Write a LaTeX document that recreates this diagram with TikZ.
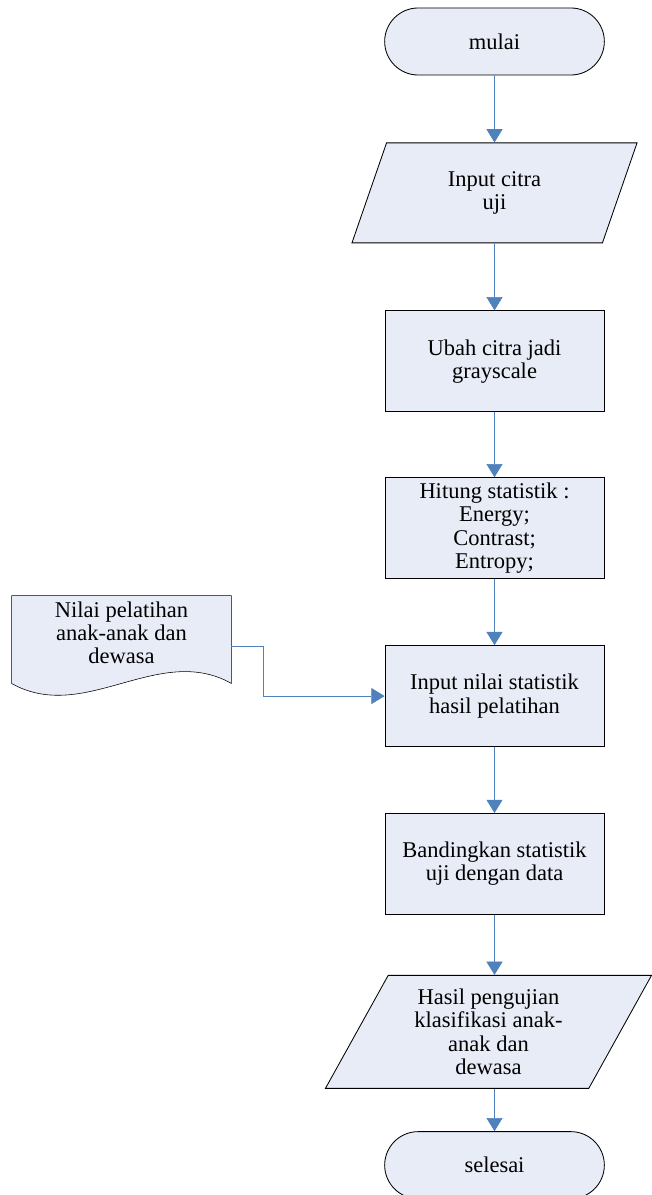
\documentclass[tikz,border=0pt]{standalone}
\usepackage{fontspec}
\setmainfont{Liberation Serif}
\usetikzlibrary{positioning,shapes.geometric,shapes.misc,arrows.meta,backgrounds}
\definecolor{boxfill}{RGB}{232,236,247}
\definecolor{flowblue}{RGB}{79,129,189}
\tikzstyle{terminal}=[
	rounded rectangle,
	draw=black,
	fill=boxfill,
	text centered,
	minimum width=5.725cm,
	minimum height=1.675cm
	]
\tikzstyle{process}=[
	rectangle,
	draw=black,
	fill=boxfill,
	align=center,
	minimum width=5.475cm,
	minimum height=2.525cm
	]
\tikzstyle{io}=[
	trapezium,
	trapezium left angle=56.5,
	trapezium right angle=123.5,
	trapezium stretches body,
	draw=black,
	fill=boxfill,
	align=center
	]
\tikzstyle{flow}=[draw=flowblue, -{Triangle[width=0.4cm,length=0.33cm]}]

\begin{document}
\begin{tikzpicture}[x=0.025cm, y=-0.025cm, node distance=1.65cm, line width=0.6pt, font=\fontsize{16}{16.5}\selectfont]

		\useasboundingbox (0,0) rectangle (651,1195);

		\node (Mulai) [terminal] at (494.5,41.5) {mulai};

		\node (InputCitra) [io, minimum width=7.125cm, minimum height=2.5cm, below=1.675cm of Mulai] {
			Input citra\\uji
		};

		\node (UbahCitra) [process, below=1.675cm of InputCitra] {
			Ubah citra jadi\\grayscale
		};

		\node (HitungStatistik) [process, below=1.625cm of UbahCitra] {
			Hitung statistik :\\Energy;\\Contrast;\\Entropy;
		};

		\node (InputNilai) [process, below=of HitungStatistik] {
			Input nilai statistik\\hasil pelatihan
		};

		\node (Bandingkan) [process, below=of InputNilai] {
			Bandingkan statistik\\uji dengan data
		};

		\node (HasilUji) [io, minimum width=8.15cm, minimum height=2.825cm, below=1.5cm of Bandingkan, xshift=-0.15cm] {
			Hasil pengujian\\klasifikasi anak-\\anak dan\\dewasa
		};

		\node (Selesai) [terminal, below=1.06cm of HasilUji, xshift=0.15cm] {selesai};

		\node (NilaiPelatihan) [minimum width=5.475cm, minimum height=1.85cm, align=center] at (121.5,633) {
			Nilai pelatihan\\anak-anak dan\\dewasa
		};

		% document shape behind its text
		\begin{pgfonlayer}{background}
			\draw[fill=boxfill] (NilaiPelatihan.north west) -- ([yshift=-0.325cm]NilaiPelatihan.south west)
				.. controls +(1.825cm,-1.025cm) and +(-1.825cm,1.025cm) .. ([yshift=-0.325cm]NilaiPelatihan.south east)
				-- (NilaiPelatihan.north east) -- cycle;
		\end{pgfonlayer}

		\draw[flow] (Mulai) -- (InputCitra);
		\draw[flow] (InputCitra) -- (UbahCitra);
		\draw[flow] (UbahCitra) -- (HitungStatistik);
		\draw[flow] (HitungStatistik) -- (InputNilai);
		\draw[flow] (InputNilai) -- (Bandingkan);
		\draw[flow] (Bandingkan.south) -- (Bandingkan.south |- HasilUji.north);
		\draw[flow] (Selesai.north |- HasilUji.south) -- (Selesai.north);

		\draw[flow] ([yshift=-0.325cm]NilaiPelatihan.east) -- ++(0.8cm,0) |- (InputNilai.west);

	\end{tikzpicture}
\end{document}
